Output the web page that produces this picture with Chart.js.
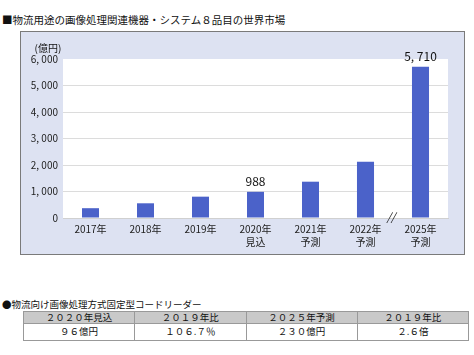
<!DOCTYPE html>
<html>
<head>
<meta charset="utf-8">
<script src="https://cdn.jsdelivr.net/npm/chart.js@4"></script>
<style>
  body { margin: 0; width: 474px; height: 355px; background: #fff; position: relative; overflow: hidden;
         font-family: "Noto Sans CJK JP", sans-serif; color: #111; }
  #title { position: absolute; left: 2px; top: 12px; font-size: 10.5px; white-space: nowrap; }
  #box { position: absolute; left: 20px; top: 31px; width: 445px; height: 224px; }
  #sub { position: absolute; left: 2px; top: 297px; font-size: 9.5px; white-space: nowrap; }
  table { position: absolute; left: 23px; top: 311px; width: 446px; border-collapse: collapse; table-layout: fixed; }
  td { border: 1px solid #999; text-align: center; font-size: 9.5px; padding: 0; line-height: 1; }
  tr.head td { background: #c9c9c9; height: 11px; }
  tr.val td { height: 16px; }
</style>
</head>
<body>
<div id="title">■物流用途の画像処理関連機器・システム８品目の世界市場</div>
<div id="box"><canvas id="c" width="445" height="224"></canvas></div>
<div id="sub">●物流向け画像処理方式固定型コードリーダー</div>
<table>
  <tr class="head" id="hrow"></tr>
  <tr class="val" id="vrow"></tr>
</table>
<script>
const categories = [['2017年'], ['2018年'], ['2019年'], ['2020年', '見込'], ['2021年', '予測'], ['2022年', '予測'], ['2025年', '予測']];
const values = [370, 555, 805, 988, 1370, 2125, 5710];
const labelled = { 3: '988', 6: '5, 710' };
const yTicks = [0, 1000, 2000, 3000, 4000, 5000, 6000];
const tableHead = ['２０２０年見込', '２０１９年比', '２０２５年予測', '２０１９年比'];
const tableVals = ['９６億円', '１０６.７％', '２３０億円', '２.６倍'];

document.getElementById('hrow').innerHTML = tableHead.map(t => '<td>' + t + '</td>').join('');
document.getElementById('vrow').innerHTML = tableVals.map(t => '<td>' + t + '</td>').join('');

const FONT = '"Noto Sans CJK JP", sans-serif';

const decor = {
    id: 'decor',
    beforeDraw(chart) {
        const ctx = chart.ctx, a = chart.chartArea;
        ctx.save();
        ctx.fillStyle = '#dde2f2';
        ctx.fillRect(0, 0, chart.width, chart.height);
        ctx.strokeStyle = '#7a7a7a';
        ctx.lineWidth = 1;
        ctx.strokeRect(0.5, 0.5, chart.width - 1, chart.height - 1);
        ctx.fillStyle = '#fff';
        ctx.fillRect(a.left, a.top, a.right - a.left, a.bottom - a.top);
        ctx.restore();
    },
    afterDraw(chart) {
        const ctx = chart.ctx, a = chart.chartArea;
        const bars = chart.getDatasetMeta(0).data;
        ctx.save();
        ctx.fillStyle = '#111';
        ctx.textAlign = 'center';
        ctx.textBaseline = 'middle';
        ctx.font = '12px ' + FONT;
        Object.keys(labelled).forEach(i => {
            ctx.fillText(labelled[i], bars[i].x, bars[i].y - 10);
        });
        ctx.font = '10px ' + FONT;
        ctx.fillText('(億円)', 28, 17);
        // break mark between 2022 and 2025
        ctx.font = 'italic 11px ' + FONT;
        ctx.fillText('//', (bars[5].x + bars[6].x) / 2 - 2, a.bottom - 1);
        ctx.restore();
    }
};

new Chart(document.getElementById('c'), {
    type: 'bar',
    data: {
        labels: categories,
        datasets: [{
            data: values,
            backgroundColor: '#4b62c9',
            categoryPercentage: 1,
            barPercentage: 0.31
        }]
    },
    options: {
        responsive: false,
        animation: false,
        layout: { padding: { left: 0, top: 28, right: 17, bottom: 0 } },
        plugins: { legend: { display: false }, tooltip: { enabled: false } },
        scales: {
            x: {
                grid: { display: false, drawTicks: false },
                border: { color: '#d0d0d0' },
                ticks: { color: '#222', font: { family: FONT, size: 10, lineHeight: 1.3 }, padding: 5, maxRotation: 0, autoSkip: false },
                afterFit(s) { s.height = 37; }
            },
            y: {
                min: 0, max: 6000,
                afterBuildTicks(s) { s.ticks = yTicks.map(v => ({ value: v })); },
                grid: {
                    drawTicks: false,
                    color: ctx => (ctx.tick && ctx.tick.value > 0 && ctx.tick.value < 6000) ? '#dcdcdc' : 'rgba(0,0,0,0)'
                },
                border: { display: false },
                ticks: {
                    color: '#222', padding: 5, font: { family: FONT, size: 10 },
                    callback: v => v >= 1000 ? Math.floor(v / 1000) + ', ' + String(v % 1000).padStart(3, '0') : String(v)
                },
                afterFit(s) { s.width = 43; }
            }
        }
    },
    plugins: [decor]
});
</script>
</body>
</html>
